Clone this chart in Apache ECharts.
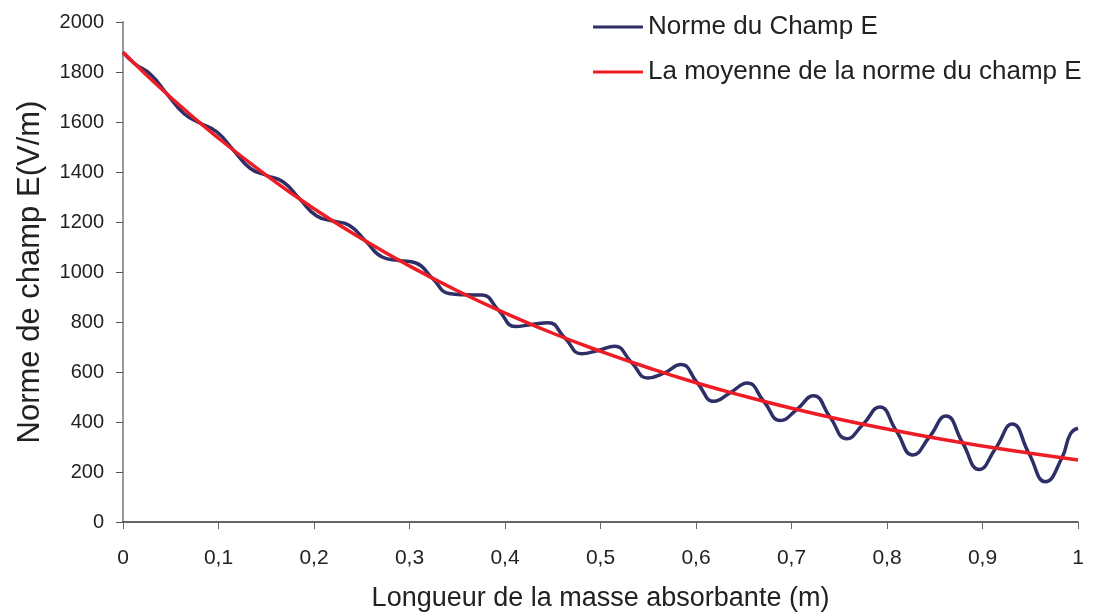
<!DOCTYPE html>
<html>
<head>
<meta charset="utf-8">
<script src="https://cdn.jsdelivr.net/npm/echarts@6/dist/echarts.min.js"></script>
<style>
  html, body { margin: 0; padding: 0; background: #fff; }
  #main { width: 1095px; height: 612px; }
</style>
</head>
<body>
<div id="main"></div>
<script>
  // valeurs
  var normeX = [0, 0.0116, 0.029, 0.0463, 0.0637, 0.081, 0.0984, 0.1157, 0.1331, 0.1504, 0.1678, 0.1851,
    0.2025, 0.2198, 0.2372, 0.2545, 0.2719, 0.2892, 0.3066, 0.3239, 0.3413, 0.3586, 0.376, 0.3933,
    0.4107, 0.428, 0.4454, 0.4627, 0.4801, 0.4974, 0.5148, 0.5321, 0.5495, 0.5668, 0.5842, 0.6015,
    0.6189, 0.6362, 0.6536, 0.6709, 0.6883, 0.7056, 0.723, 0.7403, 0.7577, 0.775, 0.7924, 0.8097,
    0.8271, 0.8444, 0.8618, 0.8791, 0.8965, 0.9138, 0.9312, 0.9485, 0.9659, 0.9832, 0.992, 1];
  var normeY = [1879, 1835, 1790, 1711, 1634, 1595, 1560, 1487, 1415, 1386, 1360, 1292,
    1225, 1204, 1186, 1122, 1059, 1046, 1036, 975, 914, 909, 908, 847,
    782, 790, 797, 736, 673, 686, 703, 640, 576, 596, 630, 556,
    483, 518, 556, 483, 406, 450, 505, 420, 333, 391, 460, 365,
    268, 340, 424, 317, 210, 295, 392, 275, 161, 257, 352, 375];

  var moyenneX = [0, 0.05, 0.1, 0.15, 0.2, 0.25, 0.3, 0.35, 0.4, 0.45, 0.5,
    0.55, 0.6, 0.65, 0.7, 0.75, 0.8, 0.85, 0.9, 0.95, 1];
  var moyenneY = [1879, 1698, 1535, 1387, 1253, 1133, 1024, 925, 836, 755, 683,
    617, 557, 504, 455, 411, 372, 336, 304, 275, 248];

  var yTicks = [0, 200, 400, 600, 800, 1000, 1200, 1400, 1600, 1800, 2000];

  function pairs(xs, ys) {
    var out = [];
    for (var i = 0; i < xs.length; i++) out.push([xs[i], ys[i]]);
    return out;
  }

  var myChart = echarts.init(document.getElementById('main'));
  var option = {
    animation: false,
    textStyle: { fontFamily: 'Liberation Sans, Arial, sans-serif' },
    grid: { left: 123, right: 17, top: 22, bottom: 90, containLabel: false, outerBoundsMode: 'none' },
    legend: {
      orient: 'vertical',
      left: 588,
      top: 9,
      itemWidth: 50,
      itemHeight: 3,
      itemGap: 19,
      icon: 'rect',
      textStyle: { fontSize: 26, color: '#222' },
      data: ['Norme du Champ E', 'La moyenne de la norme du champ E']
    },
    xAxis: {
      type: 'value',
      min: 0,
      max: 1,
      interval: 0.1,
      name: 'Longueur de la masse absorbante (m)',
      nameLocation: 'middle',
      nameGap: 63,
      nameTextStyle: { fontSize: 27, color: '#222' },
      axisLine: { lineStyle: { color: '#333', width: 1.5 } },
      axisTick: { length: 7, lineStyle: { color: '#666' } },
      axisLabel: {
        fontSize: 21,
        color: '#222',
        margin: 26,
        formatter: function (v) { return String(+v.toFixed(1)).replace('.', ','); }
      },
      splitLine: { show: false }
    },
    yAxis: {
      type: 'value',
      min: yTicks[0],
      max: yTicks[yTicks.length - 1],
      interval: 200,
      name: 'Norme de champ E(V/m)',
      nameLocation: 'middle',
      nameGap: 77,
      nameTextStyle: { fontSize: 31, color: '#222' },
      axisLine: { show: true, lineStyle: { color: '#999', width: 2 } },
      axisTick: { show: true, length: 7, lineStyle: { color: '#555' } },
      axisLabel: {
        fontSize: 20,
        color: '#222',
        margin: 19,
        formatter: function (v) { return String(v); }
      },
      splitLine: { show: false }
    },
    series: [
      {
        name: 'Norme du Champ E',
        type: 'line',
        smooth: 0.5,
        showSymbol: false,
        symbol: 'none',
        lineStyle: { color: '#2e2f66', width: 3.5 },
        itemStyle: { color: '#2e2f66' },
        data: pairs(normeX, normeY),
        z: 2
      },
      {
        name: 'La moyenne de la norme du champ E',
        type: 'line',
        smooth: true,
        showSymbol: false,
        symbol: 'none',
        lineStyle: { color: '#ee1c25', width: 3.5 },
        itemStyle: { color: '#ee1c25' },
        data: pairs(moyenneX, moyenneY),
        z: 3
      }
    ]
  };
  myChart.setOption(option);
</script>
</body>
</html>
